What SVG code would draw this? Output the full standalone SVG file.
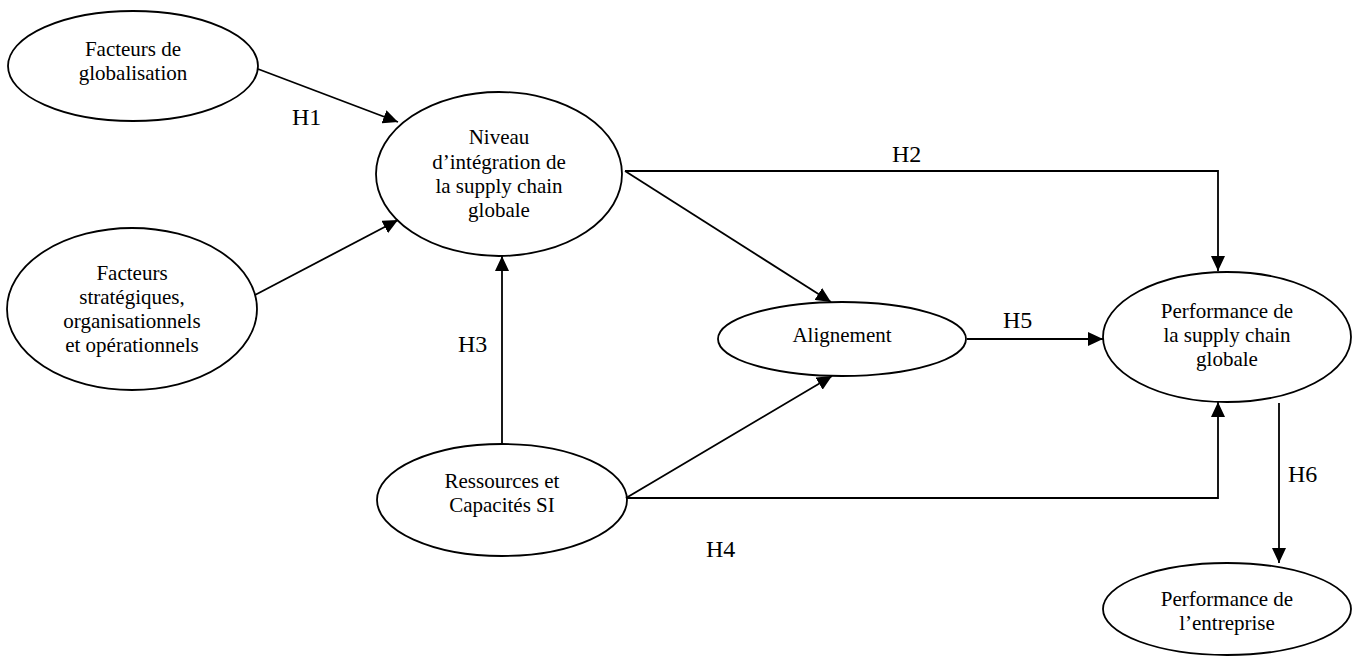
<svg xmlns="http://www.w3.org/2000/svg" width="1359" height="657" viewBox="0 0 1359 657">
<style>
.node ellipse{fill:#fff;stroke:#000;stroke-width:1.8}
.node text{font-family:"Liberation Serif","Times New Roman",serif;font-size:21px;fill:#000;text-anchor:middle}
.conn{fill:none;stroke:#000;stroke-width:1.8}
.lbl{font-family:"Liberation Serif","Times New Roman",serif;font-size:24px;fill:#000}
</style>
<defs>
<marker id="arr" markerUnits="userSpaceOnUse" viewBox="0 0 15 14" refX="15" refY="7" markerWidth="15" markerHeight="14" orient="auto">
<path d="M0,0 L15,7 L0,14 z" fill="#000"/>
</marker>
</defs>
<rect width="1359" height="657" fill="#fff"/>
<g id="n-globalisation" class="node">
<ellipse cx="133" cy="66" rx="125" ry="55"/>
<text x="133" y="56">Facteurs de</text>
<text x="133" y="80">globalisation</text>
</g>
<g id="n-strategiques" class="node">
<ellipse cx="132" cy="309" rx="125" ry="81"/>
<text x="132" y="280">Facteurs</text>
<text x="132" y="304">stratégiques,</text>
<text x="132" y="328">organisationnels</text>
<text x="132" y="352">et opérationnels</text>
</g>
<g id="n-niveau" class="node">
<ellipse cx="499" cy="174" rx="123" ry="82"/>
<text x="499" y="144">Niveau</text>
<text x="499" y="169">d’intégration de</text>
<text x="499" y="193">la supply chain</text>
<text x="499" y="217">globale</text>
</g>
<g id="n-alignement" class="node">
<ellipse cx="842" cy="339" rx="124" ry="37"/>
<text x="842" y="342">Alignement</text>
</g>
<g id="n-ressources" class="node">
<ellipse cx="502" cy="500" rx="125" ry="56"/>
<text x="502" y="488">Ressources et</text>
<text x="502" y="512">Capacités SI</text>
</g>
<g id="n-perf-sc" class="node">
<ellipse cx="1227" cy="337" rx="124" ry="65"/>
<text x="1227" y="318">Performance de</text>
<text x="1227" y="342">la supply chain</text>
<text x="1227" y="366">globale</text>
</g>
<g id="n-perf-ent" class="node">
<ellipse cx="1227" cy="609" rx="124" ry="46"/>
<text x="1227" y="606">Performance de</text>
<text x="1227" y="630">l’entreprise</text>
</g>
<g id="connectors">
<line class="conn" x1="258" y1="69" x2="398" y2="122" marker-end="url(#arr)"/>
<line class="conn" x1="255" y1="295" x2="398" y2="220" marker-end="url(#arr)"/>
<polyline class="conn" points="625,171 1218,171 1218,271" marker-end="url(#arr)"/>
<line class="conn" x1="625" y1="171" x2="831" y2="302" marker-end="url(#arr)"/>
<line class="conn" x1="502" y1="444" x2="502" y2="256" marker-end="url(#arr)"/>
<line class="conn" x1="626" y1="498" x2="832" y2="376" marker-end="url(#arr)"/>
<polyline class="conn" points="626,498 1218,498 1218,402" marker-end="url(#arr)"/>
<line class="conn" x1="967" y1="339" x2="1103" y2="339" marker-end="url(#arr)"/>
<line class="conn" x1="1279" y1="403" x2="1279" y2="563" marker-end="url(#arr)"/>
<text class="lbl" x="292" y="125">H1</text>
<text class="lbl" x="892" y="162">H2</text>
<text class="lbl" x="458" y="352">H3</text>
<text class="lbl" x="706" y="557">H4</text>
<text class="lbl" x="1003" y="328">H5</text>
<text class="lbl" x="1288" y="482">H6</text>
</g>
</svg>
